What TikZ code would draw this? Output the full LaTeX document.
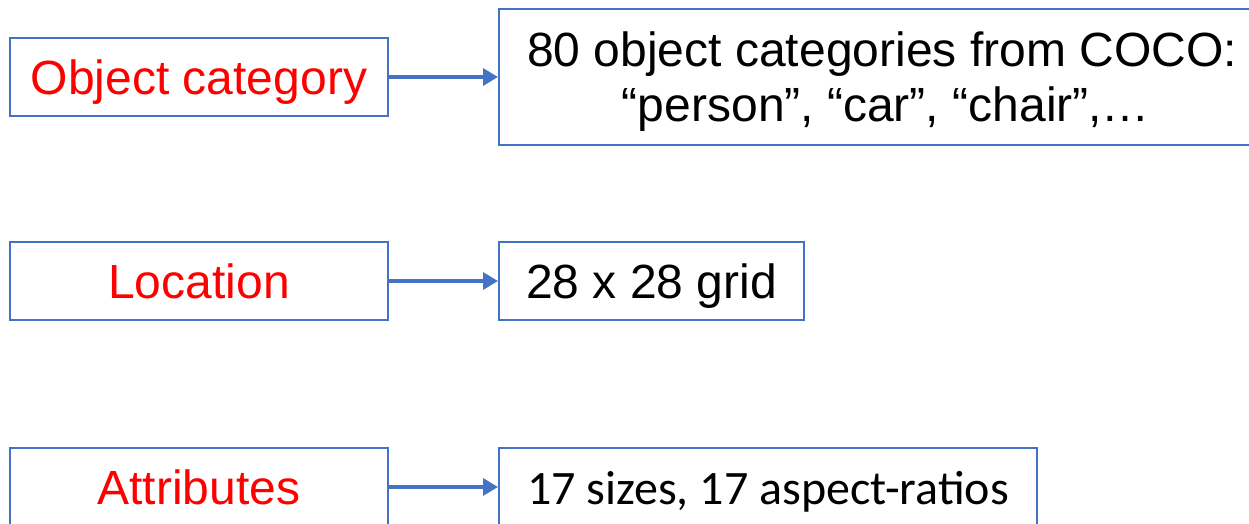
\documentclass[tikz,border=0pt]{standalone}
\usepackage{fontspec}
\setmainfont{Liberation Sans}
\newfontfamily\calib{Carlito}
\usetikzlibrary{arrows.meta}
\definecolor{obox}{HTML}{4472C4}
\begin{document}
\begin{tikzpicture}[x=1pt,y=-1pt,
  box/.style={draw=obox,line width=2pt,rectangle,inner sep=0pt,
    font=\fontsize{48}{56}\selectfont,text height=34pt,text depth=0pt},
  lbl/.style={box,text=red,minimum width=378pt,minimum height=78pt},
  txt/.style={inner sep=0pt,font=\fontsize{48}{56}\selectfont},
  conn/.style={draw=obox,line width=3.3pt,-{Triangle[length=15pt,width=17pt]}}
]
\useasboundingbox (0,0) rectangle (1249,523);
\clip (0,0) rectangle (1249,523);
\node[lbl] (cat) at (199,77) {Object category};
\node[draw=obox,line width=2pt,rectangle,minimum width=766pt,minimum height=136pt] (catv) at (882,77) {};
\node[txt,anchor=base] (catv1) at (882,66) {80 object categories from COCO:};
\node[txt,anchor=base] (catv2) at (886,121) {“person”, “car”, “chair”,…};
\node[lbl] (loc) at (199,281) {Location};
\node[box,minimum width=305pt,minimum height=78pt] (locv) at (651.5,281) {28 x 28 grid};
\node[lbl] (att) at (199,487) {Attributes};
\node[box,minimum width=538pt,minimum height=78pt,font=\calib\fontsize{48}{56}\selectfont] (attv) at (768,487)
  {17 sizes, 17 aspect-ratios};
\draw[conn] (cat.east) -- (cat.east -| catv.west);
\draw[conn] (loc.east) -- (locv.west);
\draw[conn] (att.east) -- (attv.west);
\end{tikzpicture}
\end{document}
